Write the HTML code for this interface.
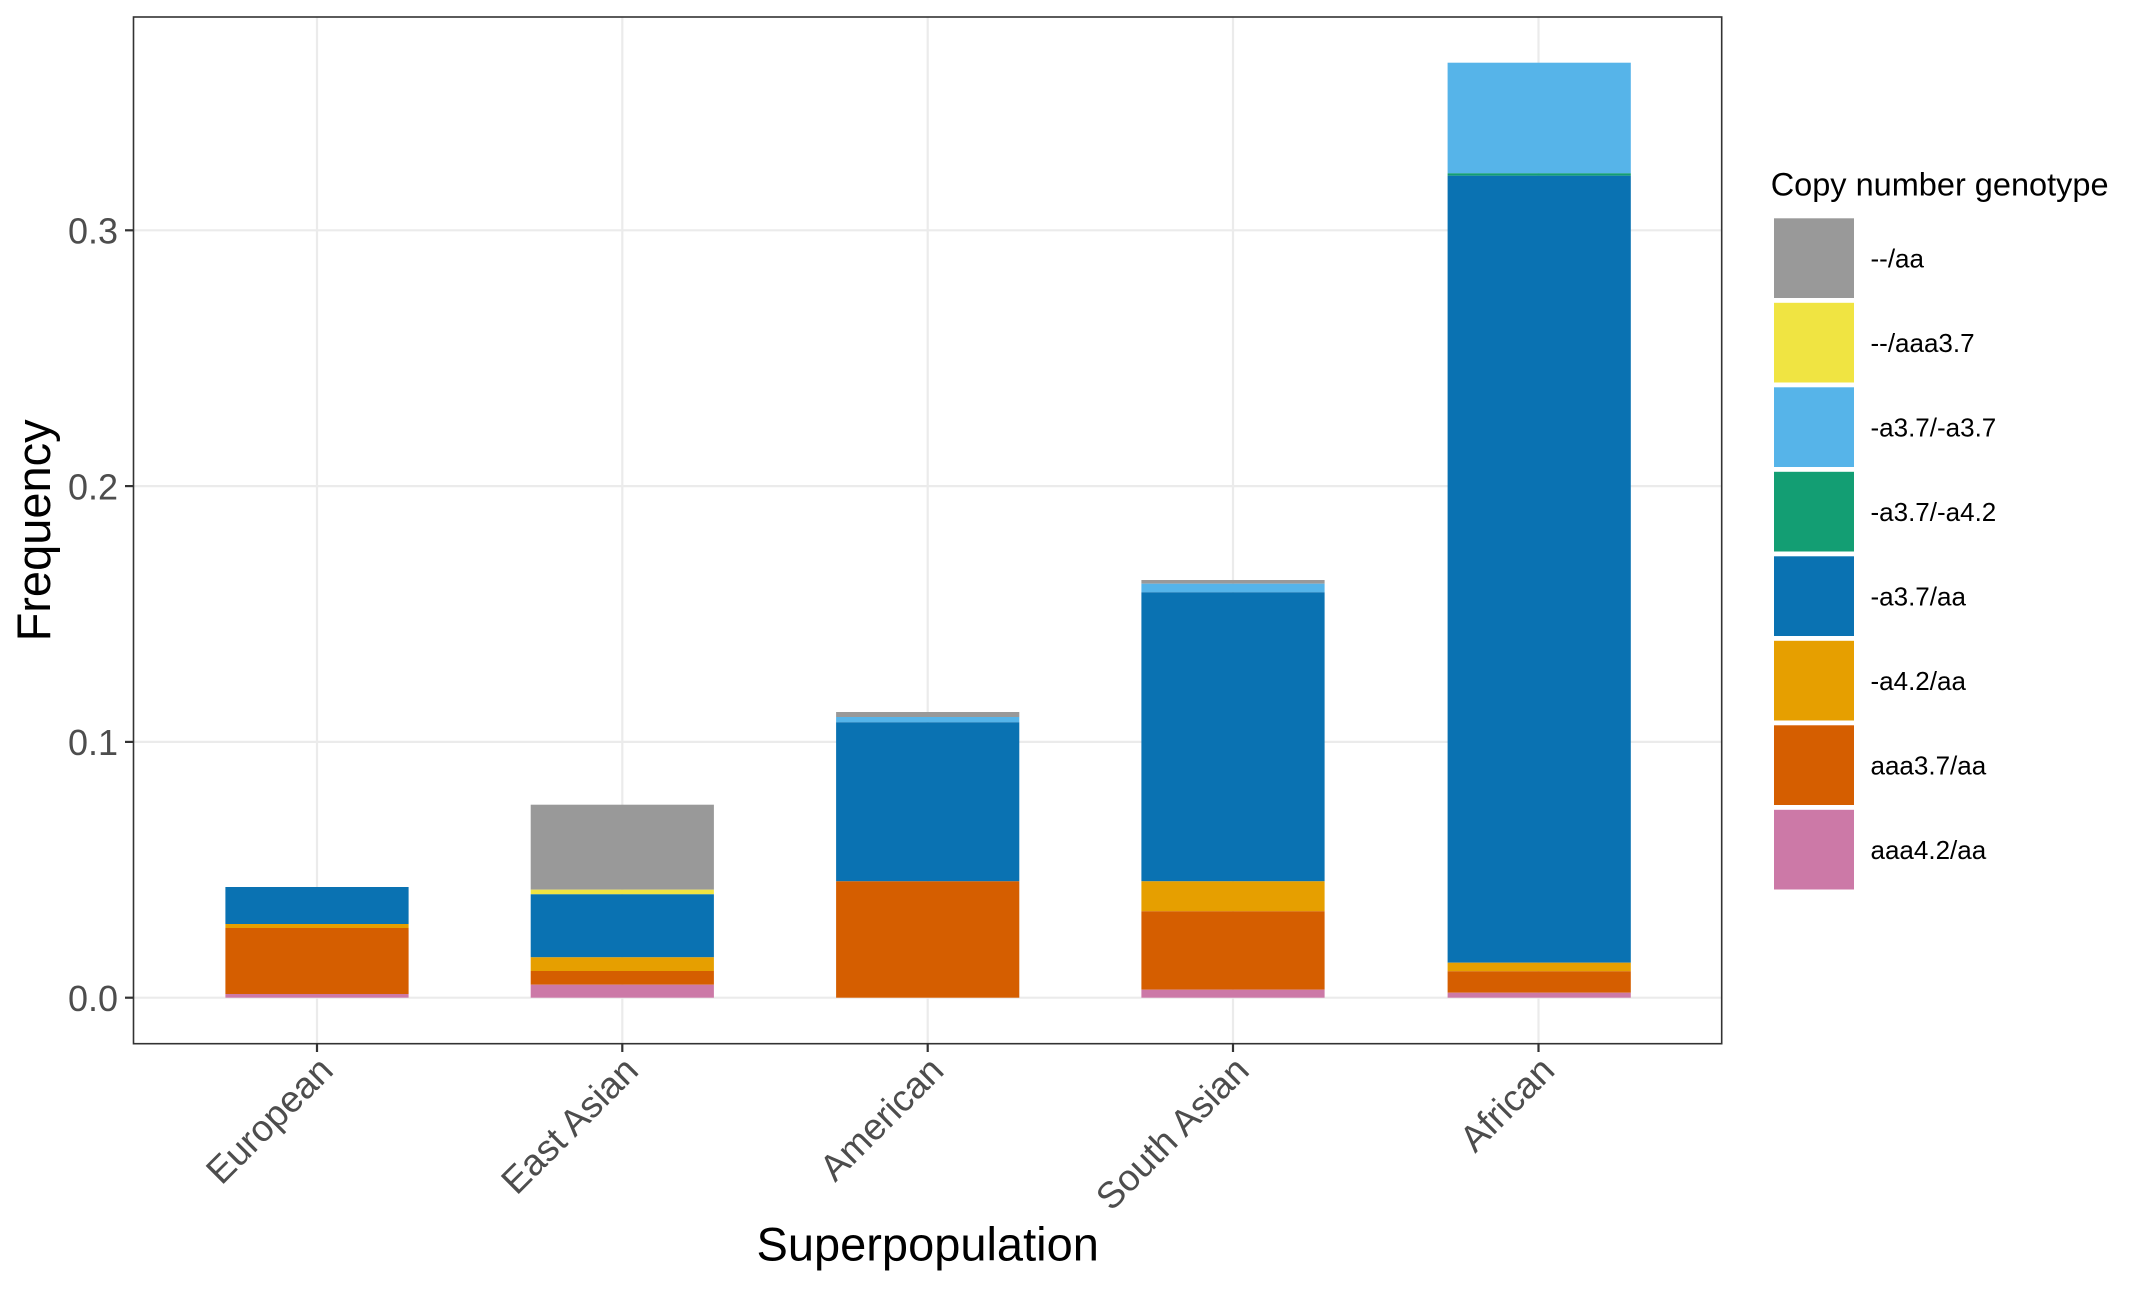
<!DOCTYPE html>
<html>
<head>
<meta charset="utf-8">
<style>
html,body{margin:0;padding:0;background:#fff;}
svg{display:block;}
text{font-family:"Liberation Sans",Arial,Helvetica,sans-serif;}
</style>
</head>
<body>
<svg width="2145" height="1292" viewBox="0 0 2145 1292" xmlns="http://www.w3.org/2000/svg">
<rect x="0" y="0" width="2145" height="1292" fill="#ffffff"/>
<!-- grid lines -->
<g stroke="#EBEBEB" stroke-width="2.2" fill="none">
  <line x1="133.5" y1="997.7" x2="1721.7" y2="997.7"/>
  <line x1="133.5" y1="741.9" x2="1721.7" y2="741.9"/>
  <line x1="133.5" y1="486.1" x2="1721.7" y2="486.1"/>
  <line x1="133.5" y1="230.3" x2="1721.7" y2="230.3"/>
  <line x1="317" y1="17" x2="317" y2="1043.7"/>
  <line x1="622.3" y1="17" x2="622.3" y2="1043.7"/>
  <line x1="927.7" y1="17" x2="927.7" y2="1043.7"/>
  <line x1="1233" y1="17" x2="1233" y2="1043.7"/>
  <line x1="1538.5" y1="17" x2="1538.5" y2="1043.7"/>
</g>
<!-- European -->
<g>
  <rect x="225.4" y="887" width="183.2" height="37" fill="#0A72B2"/>
  <rect x="225.4" y="924" width="183.2" height="4" fill="#E69F00"/>
  <rect x="225.4" y="928" width="183.2" height="66" fill="#D55E00"/>
  <rect x="225.4" y="994" width="183.2" height="3.7" fill="#CC79A7"/>
</g>
<!-- East Asian -->
<g>
  <rect x="530.7" y="804.7" width="183.2" height="85" fill="#999999"/>
  <rect x="530.7" y="889.7" width="183.2" height="4.6" fill="#F0E442"/>
  <rect x="530.7" y="894.3" width="183.2" height="63" fill="#0A72B2"/>
  <rect x="530.7" y="957.3" width="183.2" height="13.7" fill="#E69F00"/>
  <rect x="530.7" y="971" width="183.2" height="13.7" fill="#D55E00"/>
  <rect x="530.7" y="984.7" width="183.2" height="13" fill="#CC79A7"/>
</g>
<!-- American -->
<g>
  <rect x="836.1" y="712" width="183.2" height="5" fill="#999999"/>
  <rect x="836.1" y="717" width="183.2" height="5.3" fill="#56B4E9"/>
  <rect x="836.1" y="722.3" width="183.2" height="159" fill="#0A72B2"/>
  <rect x="836.1" y="881.3" width="183.2" height="116.4" fill="#D55E00"/>
</g>
<!-- South Asian -->
<g>
  <rect x="1141.4" y="580" width="183.2" height="3.7" fill="#999999"/>
  <rect x="1141.4" y="583.7" width="183.2" height="8.6" fill="#56B4E9"/>
  <rect x="1141.4" y="592.3" width="183.2" height="289" fill="#0A72B2"/>
  <rect x="1141.4" y="881.3" width="183.2" height="30" fill="#E69F00"/>
  <rect x="1141.4" y="911.3" width="183.2" height="78.4" fill="#D55E00"/>
  <rect x="1141.4" y="989.7" width="183.2" height="8" fill="#CC79A7"/>
</g>
<!-- African -->
<g>
  <rect x="1447.6" y="62.7" width="183.2" height="110.6" fill="#56B4E9"/>
  <rect x="1447.6" y="173.3" width="183.2" height="2.4" fill="#139E73"/>
  <rect x="1447.6" y="175.7" width="183.2" height="787" fill="#0A72B2"/>
  <rect x="1447.6" y="962.7" width="183.2" height="8.6" fill="#E69F00"/>
  <rect x="1447.6" y="971.3" width="183.2" height="21.4" fill="#D55E00"/>
  <rect x="1447.6" y="992.7" width="183.2" height="5" fill="#CC79A7"/>
</g>
<!-- panel border -->
<rect x="133.5" y="17" width="1588.2" height="1026.7" fill="none" stroke="#333333" stroke-width="1.6"/>
<!-- ticks -->
<g stroke="#333333" stroke-width="2.2">
  <line x1="125" y1="997.7" x2="133.5" y2="997.7"/>
  <line x1="125" y1="741.9" x2="133.5" y2="741.9"/>
  <line x1="125" y1="486.1" x2="133.5" y2="486.1"/>
  <line x1="125" y1="230.3" x2="133.5" y2="230.3"/>
  <line x1="317" y1="1043.7" x2="317" y2="1052"/>
  <line x1="622.3" y1="1043.7" x2="622.3" y2="1052"/>
  <line x1="927.7" y1="1043.7" x2="927.7" y2="1052"/>
  <line x1="1233" y1="1043.7" x2="1233" y2="1052"/>
  <line x1="1538.5" y1="1043.7" x2="1538.5" y2="1052"/>
</g>
<!-- y tick labels -->
<g fill="#4D4D4D" font-size="36" text-anchor="end">
  <text x="118" y="1011">0.0</text>
  <text x="118" y="755.2">0.1</text>
  <text x="118" y="499.4">0.2</text>
  <text x="118" y="243.6">0.3</text>
</g>
<!-- x tick labels -->
<g fill="#4D4D4D" font-size="37" text-anchor="end">
  <text x="335" y="1072.5" transform="rotate(-45 335 1072.5)">European</text>
  <text x="640.3" y="1072.5" transform="rotate(-45 640.3 1072.5)">East Asian</text>
  <text x="945.7" y="1072.5" transform="rotate(-45 945.7 1072.5)">American</text>
  <text x="1251" y="1072.5" transform="rotate(-45 1251 1072.5)">South Asian</text>
  <text x="1556.5" y="1072.5" transform="rotate(-45 1556.5 1072.5)">African</text>
</g>
<!-- axis titles -->
<text x="927.7" y="1260.7" font-size="47" text-anchor="middle" fill="#000">Superpopulation</text>
<text x="50" y="530.4" font-size="47" text-anchor="middle" fill="#000" transform="rotate(-90 50 530.4)">Frequency</text>
<!-- legend -->
<text x="1770.7" y="195.7" font-size="32.5" fill="#000">Copy number genotype</text>
<g>
  <rect x="1774" y="218.3" width="80" height="79.7" fill="#999999"/>
  <rect x="1774" y="302.8" width="80" height="79.7" fill="#F0E442"/>
  <rect x="1774" y="387.3" width="80" height="79.7" fill="#56B4E9"/>
  <rect x="1774" y="471.8" width="80" height="79.7" fill="#139E73"/>
  <rect x="1774" y="556.3" width="80" height="79.7" fill="#0A72B2"/>
  <rect x="1774" y="640.8" width="80" height="79.7" fill="#E69F00"/>
  <rect x="1774" y="725.3" width="80" height="79.7" fill="#D55E00"/>
  <rect x="1774" y="809.8" width="80" height="79.7" fill="#CC79A7"/>
</g>
<g fill="#000" font-size="26">
  <text x="1870.5" y="267.3">--/aa</text>
  <text x="1870.5" y="351.8">--/aaa3.7</text>
  <text x="1870.5" y="436.3">-a3.7/-a3.7</text>
  <text x="1870.5" y="520.8">-a3.7/-a4.2</text>
  <text x="1870.5" y="605.3">-a3.7/aa</text>
  <text x="1870.5" y="689.8">-a4.2/aa</text>
  <text x="1870.5" y="774.3">aaa3.7/aa</text>
  <text x="1870.5" y="858.8">aaa4.2/aa</text>
</g>
</svg>
</body>
</html>
